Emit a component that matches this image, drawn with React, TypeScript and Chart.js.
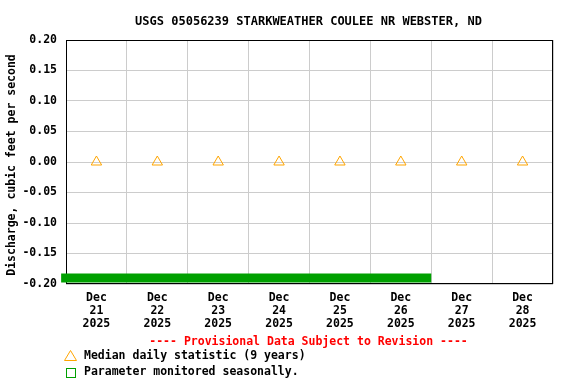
import { useEffect, useRef } from 'react';
import { Chart, registerables } from 'chart.js';
Chart.register(...registerables);

const titleText = 'USGS 05056239 STARKWEATHER COULEE NR WEBSTER, ND';
const yTitle = 'Discharge, cubic feet per second';
const xLabels = [
  ['Dec', '21', '2025'],
  ['Dec', '22', '2025'],
  ['Dec', '23', '2025'],
  ['Dec', '24', '2025'],
  ['Dec', '25', '2025'],
  ['Dec', '26', '2025'],
  ['Dec', '27', '2025'],
  ['Dec', '28', '2025'],
];
const medianX = [0.5, 1.5, 2.5, 3.5, 4.5, 5.5, 6.5, 7.5];
const medianY = [0, 0, 0, 0, 0, 0, 0, 0];
const seasonalX = [-0.08, 6];
const seasonalY = [-0.19, -0.19];
const provisionalText = '---- Provisional Data Subject to Revision ----';
const legendMedian = 'Median daily statistic (9 years)';
const legendSeasonal = 'Parameter monitored seasonally.';

const FONT = '"DejaVu Sans Mono", "Liberation Mono", monospace';

const decor = {
  id: 'decor',
  beforeDatasetsDraw(chart: any) {
    const { ctx, chartArea } = chart;
    const l = Math.round(chartArea.left) + 0.5;
    const t = Math.round(chartArea.top) + 0.5;
    const r = Math.round(chartArea.right) - 0.5;
    const b = Math.round(chartArea.bottom) - 0.5;
    ctx.save();
    ctx.strokeStyle = '#000';
    ctx.lineWidth = 1;
    ctx.strokeRect(l, t, r - l, b - t);
    ctx.restore();
  },
  afterDraw(chart: any) {
    const { ctx, chartArea } = chart;
    const cx = (chartArea.left + chartArea.right) / 2;
    const cy = (chartArea.top + chartArea.bottom) / 2;
    ctx.save();
    ctx.fillStyle = '#000';
    ctx.textBaseline = 'middle';
    ctx.textAlign = 'center';
    ctx.font = `bold 12px ${FONT}`;
    ctx.fillText(titleText, cx - 1, 22);
    // y title
    ctx.save();
    ctx.translate(12, cy + 3);
    ctx.rotate(-Math.PI / 2);
    ctx.font = `bold 11.5px ${FONT}`;
    ctx.fillText(yTitle, 0, 0);
    ctx.restore();
    // provisional
    ctx.font = `bold 11.5px ${FONT}`;
    ctx.fillStyle = '#ff0000';
    ctx.fillText(provisionalText, cx - 1, 342.5);
    // legend
    ctx.textAlign = 'left';
    ctx.fillStyle = '#000';
    ctx.fillText(legendMedian, 84, 356.5);
    ctx.fillText(legendSeasonal, 84, 372.5);
    ctx.strokeStyle = '#ffa500';
    ctx.lineWidth = 1;
    ctx.beginPath();
    ctx.moveTo(70.5, 350.5);
    ctx.lineTo(64.5, 360.5);
    ctx.lineTo(76.5, 360.5);
    ctx.closePath();
    ctx.stroke();
    ctx.strokeStyle = '#00a000';
    ctx.strokeRect(66.5, 368.5, 9, 9);
    ctx.restore();
  },
};

export default function App() {
  const ref = useRef<HTMLCanvasElement>(null);
  useEffect(() => {
    document.body.style.margin = '0';
    const chart = new Chart(ref.current!, {
      type: 'line',
      data: {
        datasets: [
          {
            label: 'seasonal',
            xAxisID: 'xd',
            yAxisID: 'y',
            data: seasonalX.map((x, i) => ({ x, y: seasonalY[i] })),
            borderColor: '#00a000',
            borderWidth: 9,
            borderCapStyle: 'butt',
            pointRadius: 0,
            clip: false as any,
            showLine: true,
          },
          {
            label: 'median',
            xAxisID: 'xd',
            yAxisID: 'y',
            data: medianX.map((x, i) => ({ x, y: medianY[i] })),
            showLine: false,
            pointStyle: 'triangle',
            pointRadius: 6,
            pointBorderColor: '#ffa500',
            pointBackgroundColor: 'rgba(0,0,0,0)',
            pointBorderWidth: 1,
          },
        ],
      } as any,
      options: {
        animation: false,
        responsive: true,
        maintainAspectRatio: false,
        layout: { padding: { top: 40, right: 23, left: 0, bottom: 0 } },
        plugins: { legend: { display: false }, tooltip: { enabled: false }, title: { display: false } },
        scales: {
          x: {
            type: 'category',
            labels: xLabels as any,
            offset: true,
            grid: { offset: true, color: '#cccccc', drawTicks: false },
            border: { display: false },
            ticks: {
              color: '#000',
              padding: 7,
              maxRotation: 0,
              autoSkip: false,
              font: { family: FONT, size: 11.5, weight: 'bold', lineHeight: 1.15 },
            },
            afterFit: (s: any) => { s.height = 100; },
          },
          xd: { type: 'linear', display: false, min: 0, max: 8 },
          y: {
            type: 'linear',
            min: -0.2,
            max: 0.2,
            grid: { color: '#cccccc', drawTicks: false },
            border: { display: false },
            ticks: {
              stepSize: 0.05,
              color: '#000',
              padding: 9,
              font: { family: FONT, size: 11.5, weight: 'bold' },
              callback: (v: any) => Number(v).toFixed(2),
            },
            afterFit: (s: any) => { s.width = 66; },
          },
        },
      } as any,
      plugins: [decor],
    });
    return () => chart.destroy();
  }, []);
  return (
    <div style={{ position: 'relative', width: 576, height: 384 }}>
      <canvas ref={ref} />
    </div>
  );
}
